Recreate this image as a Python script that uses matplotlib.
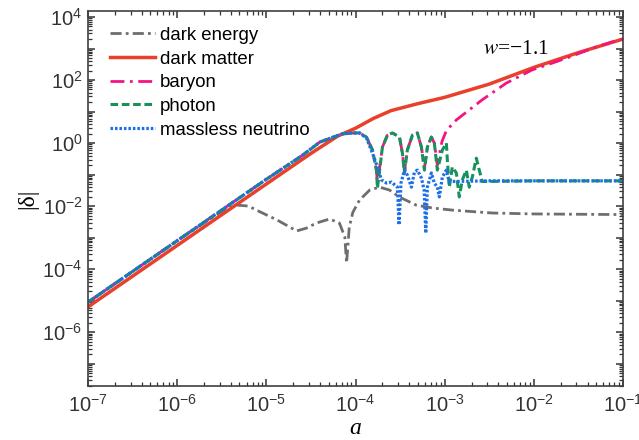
import numpy as np
import matplotlib
matplotlib.use("Agg")
import matplotlib.pyplot as plt
from matplotlib.ticker import LogLocator, FuncFormatter, NullFormatter

plt.rcParams['font.family'] = ['Liberation Sans', 'DejaVu Sans']
plt.rcParams['mathtext.fontset'] = 'stix'

# curves, stored as log10(a) and log10(|delta|)
de_loga = [-7.0, -6.0, -5.6, -5.45, -5.33, -5.2, -5.11, -4.88, -4.66, -4.55, -4.44, -4.29,
           -4.18, -4.12, -4.10, -4.07, -4.03, -3.955, -3.84, -3.73, -3.62, -3.51, -3.32,
           -3.14, -2.91, -2.47, -2.0, -1.5, -1.0]
de_logd = [-5.05, -3.1, -2.35, -2.08, -1.97, -2.0, -2.13, -2.44, -2.79, -2.70, -2.54, -2.41,
           -2.54, -2.98, -3.81, -2.67, -2.2, -1.81, -1.49, -1.40, -1.49, -1.71, -1.97,
           -2.06, -2.13, -2.22, -2.25, -2.26, -2.27]

dm_loga = [-7.0, -6.0, -5.0, -4.5, -4.2, -4.0, -3.8, -3.6, -3.3, -3.0, -2.5, -2.0, -1.5, -1.0]
dm_logd = [-5.2, -3.25, -1.30, -0.33, 0.22, 0.47, 0.78, 1.03, 1.25, 1.45, 1.87, 2.40, 2.87, 3.30]

nu_loga_early = [-7.0, -6.0, -5.0, -4.6, -4.4, -4.15, -4.03]
nu_logd_early = [-5.05, -3.1, -1.15, -0.4, 0.03, 0.29, 0.32]

ba_loga = [-3.955, -3.877, -3.810, -3.765, -3.754, -3.698, -3.642, -3.586, -3.507, -3.474,
           -3.451, -3.418, -3.362, -3.306, -3.261, -3.227, -3.194, -3.149, -3.116, -3.082,
           -3.03, -2.98, -2.87, -2.58, -2.31, -2.02, -1.79, -1.60, -1.30, -1.12, -1.0]
ba_logd = [0.32, 0.19, -0.22, -0.86, -1.30, -0.13, 0.25, 0.32, 0.19, -0.32,
           -0.90, -0.22, 0.25, 0.32, -0.13, -0.80, -0.13, 0.19, 0.0, -0.70,
           0.05, 0.40, 0.73, 1.37, 1.90, 2.32, 2.54, 2.73, 3.05, 3.21, 3.30]

ph_loga = [-3.955, -3.877, -3.810, -3.765, -3.754, -3.698, -3.642, -3.586, -3.507, -3.474,
           -3.451, -3.418, -3.362, -3.306, -3.261, -3.227, -3.194, -3.149, -3.116, -3.082,
           -3.026, -2.981, -2.970, -2.948, -2.914, -2.869, -2.836, -2.802, -2.757, -2.724,
           -2.690, -2.645, -2.612, -2.578, -2.0, -1.0]
ph_logd = [0.32, 0.19, -0.22, -0.86, -1.43, -0.13, 0.25, 0.32, 0.19, -0.32,
           -0.95, -0.22, 0.25, 0.32, -0.13, -0.86, -0.13, 0.19, 0.0, -0.86,
           -0.22, 0.0, -0.54, -1.40, -0.76, -0.95, -1.71, -1.17, -0.86, -1.40,
           -1.08, -0.48, -0.86, -1.22, -1.20, -1.20]

nu_loga_late = [-3.955, -3.877, -3.810, -3.754, -3.709, -3.653, -3.597, -3.530, -3.512, -3.490,
                -3.451, -3.418, -3.373, -3.339, -3.306, -3.261, -3.230, -3.212, -3.194, -3.149,
                -3.116, -3.082, -3.06, -3.026, -2.981, -2.948, -2.914, -2.5, -2.0, -1.0]
nu_logd_late = [0.32, 0.16, -0.32, -0.76, -1.17, -1.27, -1.24, -1.40, -2.60, -1.27,
                -0.86, -1.02, -1.40, -0.92, -0.86, -1.11, -1.49, -2.86, -1.40, -0.95,
                -1.27, -1.40, -1.71, -1.08, -0.86, -1.24, -1.22, -1.20, -1.20, -1.20]

labels = ['dark energy', 'dark matter', 'baryon', 'photon', 'massless neutrino']
colors = ['#6e6e6e', '#e8402a', '#f5147f', '#17925d', '#1c6fe8']

fig = plt.figure(figsize=(6.39, 4.40), dpi=100)
ax = fig.add_axes([88/639, 54/440, 535/639, 375/440])

# shared early track for baryon / photon (overlaps the neutrino curve)
early_a = 10**np.array(nu_loga_early)
early_d = 10**np.array(nu_logd_early)

ax.loglog(10**np.array(de_loga), 10**np.array(de_logd), color=colors[0], lw=2,
          ls=(0, (4, 1.5, 1, 1.5)), label=labels[0])
ax.loglog(10**np.array(dm_loga), 10**np.array(dm_logd), color=colors[1], lw=2.5,
          ls='-', label=labels[1])
ax.loglog(np.r_[early_a, 10**np.array(ba_loga)], np.r_[early_d, 10**np.array(ba_logd)],
          color=colors[2], lw=2, ls=(0, (5, 2, 1, 2)), label=labels[2])
ax.loglog(np.r_[early_a, 10**np.array(ph_loga)], np.r_[early_d, 10**np.array(ph_logd)],
          color=colors[3], lw=2.2, ls=(0, (2.5, 1.2)), label=labels[3])
ax.loglog(np.r_[early_a, 10**np.array(nu_loga_late)], np.r_[early_d, 10**np.array(nu_logd_late)],
          color=colors[4], lw=2.3, ls=(0, (0.8, 0.6)), label=labels[4])

ax.set_xlim(1e-7, 1e-1)
ax.set_ylim(10**-7.71, 10**4.19)

# ticks
ax.xaxis.set_major_locator(LogLocator(base=10, numticks=20))
ax.xaxis.set_minor_locator(LogLocator(base=10, subs=np.arange(2, 10), numticks=20))
ax.xaxis.set_minor_formatter(NullFormatter())
ax.yaxis.set_major_locator(LogLocator(base=10, numticks=20))
ax.yaxis.set_minor_locator(LogLocator(base=10, subs=np.arange(2, 10), numticks=20))
ax.yaxis.set_minor_formatter(NullFormatter())

def expfmt(v, pos):
    e = int(round(np.log10(v)))
    return r'$\mathdefault{10^{%d}}$' % e

def expfmt_even(v, pos):
    e = int(round(np.log10(v)))
    if e % 2:
        return ''
    return r'$\mathdefault{10^{%d}}$' % e

ax.xaxis.set_major_formatter(FuncFormatter(expfmt))
ax.yaxis.set_major_formatter(FuncFormatter(expfmt_even))

ax.tick_params(which='both', direction='in', top=True, right=True, colors='#333333')
ax.tick_params(which='major', length=5, width=1.1, labelsize=14.5)
ax.tick_params(which='minor', length=3, width=0.9)
ax.tick_params(axis='x', which='major', pad=6)
ax.tick_params(axis='y', which='major', pad=4)
for s in ax.spines.values():
    s.set_linewidth(1.2)
    s.set_color('#404040')

ax.set_xlabel('a', family='Liberation Serif', style='italic', fontsize=17)
ax.xaxis.set_label_coords(0.5, -0.085)
ax.set_ylabel('|δ|', family='Liberation Serif', fontsize=17)
ax.yaxis.set_label_coords(-0.093, 0.5)

ax.text(0.738, 0.896, r'$w$=−1.1', transform=ax.transAxes, family='Liberation Serif',
        fontsize=15.5, va='center', ha='left')

ax.legend(loc='upper left', bbox_to_anchor=(0.041, 0.958), frameon=False, fontsize=13.4,
          borderpad=0, borderaxespad=0, handlelength=2.42, handletextpad=0.27,
          labelspacing=0.36)

fig.savefig('out.png', dpi=100)
